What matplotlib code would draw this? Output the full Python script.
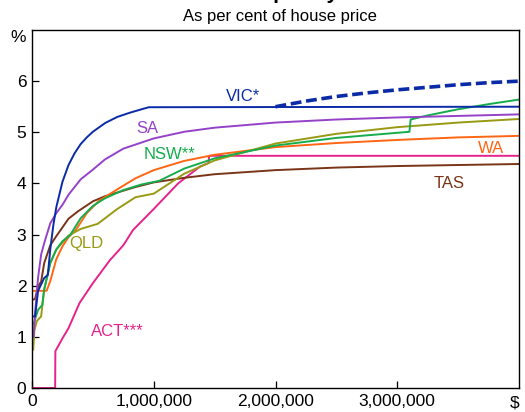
import numpy as np
import matplotlib.pyplot as plt

plt.rcParams['font.family'] = ['Liberation Sans', 'DejaVu Sans']

# house price in $'000, duty as per cent of price
vic_x = [10, 25, 50, 100, 130, 150, 175, 200, 250, 300, 350, 400, 450, 500, 600, 700, 800, 900, 960, 4000]
vic_y = [1.4, 1.4, 1.9, 2.15, 2.21, 2.71, 3.18, 3.54, 4.03, 4.36, 4.59, 4.77, 4.9, 5.01, 5.18, 5.30, 5.38, 5.45, 5.49, 5.5]

vic_prem_x = [2000, 2250, 2500, 2750, 3000, 3250, 3500, 3750, 4000]
vic_prem_y = [5.5, 5.61, 5.7, 5.77, 5.83, 5.88, 5.93, 5.97, 6.0]

sa_x = [10, 12, 30, 50, 75, 100, 150, 200, 250, 300, 400, 500, 600, 750, 1000, 1250, 1500, 2000, 2500, 3000, 3500, 4000]
sa_y = [1.0, 1.0, 1.6, 2.16, 2.61, 2.83, 3.22, 3.42, 3.58, 3.78, 4.08, 4.27, 4.47, 4.68, 4.88, 5.01, 5.09, 5.19, 5.25, 5.29, 5.32, 5.35]

nsw_x = [10, 14, 31, 50, 84, 100, 150, 200, 250, 313, 400, 500, 600, 750, 900, 1044, 1250, 1500, 2000, 2500, 3000, 3100, 3110, 3250, 3500, 3750, 4000]
nsw_y = [1.25, 1.25, 1.39, 1.53, 1.62, 1.92, 2.44, 2.71, 2.87, 2.99, 3.32, 3.56, 3.71, 3.87, 3.98, 4.05, 4.29, 4.49, 4.74, 4.89, 4.99, 5.01, 5.25, 5.33, 5.45, 5.55, 5.64]

qld_x = [10, 20, 40, 75, 100, 150, 200, 300, 400, 540, 700, 850, 1000, 1250, 1500, 2000, 2500, 3000, 3500, 4000]
qld_y = [0.75, 1.13, 1.31, 1.4, 1.93, 2.45, 2.71, 2.98, 3.11, 3.21, 3.5, 3.73, 3.8, 4.19, 4.45, 4.78, 4.97, 5.10, 5.19, 5.26]

wa_x = [10, 120, 150, 200, 250, 300, 360, 450, 550, 725, 850, 1000, 1250, 1500, 2000, 2500, 3000, 3500, 4000]
wa_y = [1.9, 1.9, 2.09, 2.52, 2.77, 2.95, 3.09, 3.42, 3.66, 3.92, 4.10, 4.26, 4.44, 4.56, 4.71, 4.79, 4.85, 4.90, 4.93]

tas_x = [10, 25, 50, 75, 100, 150, 200, 300, 375, 500, 600, 725, 850, 1000, 1250, 1500, 2000, 2500, 3000, 3500, 4000]
tas_y = [1.73, 1.74, 1.99, 2.08, 2.44, 2.79, 2.97, 3.31, 3.45, 3.65, 3.75, 3.84, 3.93, 4.02, 4.11, 4.18, 4.26, 4.31, 4.34, 4.36, 4.38]

act_x = [10, 190, 192, 250, 300, 390, 500, 640, 750, 830, 1000, 1200, 1380, 1450, 1455, 4000]
act_y = [0, 0, 0.72, 0.97, 1.17, 1.66, 2.05, 2.5, 2.79, 3.09, 3.5, 4.0, 4.33, 4.4, 4.54, 4.54]

c_vic = '#0b2aa6'
c_sa = '#9542c8'
c_nsw = '#16ac4c'
c_qld = '#999a14'
c_wa = '#ff6614'
c_tas = '#7a3417'
c_act = '#e6238c'

fig = plt.figure(figsize=(5.25, 4.12), dpi=100)
ax = fig.add_axes([32/525, 1 - 388/412, 487/525, 358/412])

def k(xs):
    return np.array(xs) * 1000

lw = 1.4
ax.plot(k(act_x), act_y, color=c_act, lw=lw)
ax.plot(k(tas_x), tas_y, color=c_tas, lw=lw)
ax.plot(k(wa_x), wa_y, color=c_wa, lw=lw)
ax.plot(k(qld_x), qld_y, color=c_qld, lw=lw)
ax.plot(k(nsw_x), nsw_y, color=c_nsw, lw=lw)
ax.plot(k(sa_x), sa_y, color=c_sa, lw=lw)
ax.plot(k(vic_x), vic_y, color=c_vic, lw=lw)
ax.plot(k(vic_prem_x), vic_prem_y, color=c_vic, lw=2.6, ls=(0, (3, 1.3)))

ax.set_xlim(0, 4000000)
ax.set_ylim(0, 7)
ax.set_xticks([0, 1000000, 2000000, 3000000])
ax.set_xticklabels(['0', '1,000,000', '2,000,000', '3,000,000'])
ax.set_yticks([0, 1, 2, 3, 4, 5, 6])
ax.tick_params(direction='in', length=5, width=0.9, labelsize=12.5, pad=4)
for s in ax.spines.values():
    s.set_linewidth(1.0)

lab = dict(fontsize=12, ha='center', va='center')
ax.text(1730000, 5.70, 'VIC*', color=c_vic, **lab)
ax.text(950000, 5.08, 'SA', color=c_sa, **lab)
ax.text(1130000, 4.57, 'NSW**', color=c_nsw, **lab)
ax.text(3770000, 4.69, 'WA', color=c_wa, **lab)
ax.text(3430000, 4.0, 'TAS', color=c_tas, **lab)
ax.text(450000, 2.83, 'QLD', color=c_qld, **lab)
ax.text(700000, 1.11, 'ACT***', color=c_act, **lab)

ax.text(-0.012, 1.0, '%', transform=ax.transAxes, ha='right', va='top', fontsize=12.5)
ax.text(1.0, -0.022, '$', transform=ax.transAxes, ha='right', va='top', fontsize=12.5)

# title sits mostly above the top edge, as in the cropped original
fig.text(280/525, 1.0035, 'Stamp Duty', ha='center', va='baseline', fontsize=15, fontweight='bold')
fig.text(280/525, 1 - 17/412, 'As per cent of house price', ha='center', va='center', fontsize=12)

fig.savefig('out.png', dpi=100)
